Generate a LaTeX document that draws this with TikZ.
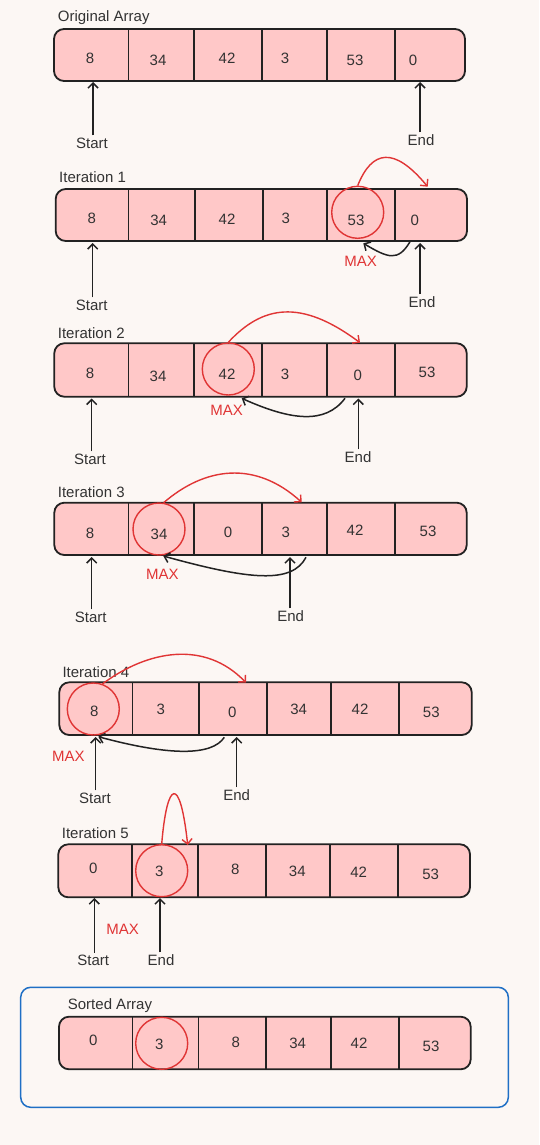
\documentclass[tikz,border=0pt]{standalone}
\usepackage{fontspec}
\setmainfont{Liberation Sans}
\usetikzlibrary{arrows.meta}
\definecolor{bgc}{HTML}{FCF7F4}
\definecolor{cellc}{HTML}{FFC8C8}
\definecolor{redc}{HTML}{E03535}
\definecolor{bluec}{HTML}{1F6FC5}
\definecolor{txtc}{HTML}{333333}
\definecolor{linec}{HTML}{222222}
\begin{document}
\begin{tikzpicture}[x=1pt,y=-1pt,
  font=\fontsize{15}{17}\selectfont,
  arrbox/.style={draw=linec, line width=1.8pt, fill=cellc, rounded corners=10pt},
  divider/.style={draw=linec, line width=1.6pt},
  val/.style={text=txtc, inner sep=0pt},
  ttl/.style={text=txtc, anchor=west, inner sep=0pt},
  lbl/.style={text=txtc, inner sep=2pt},
  maxc/.style={circle, draw=redc, line width=1.4pt, minimum size=52pt, inner sep=0pt},
  maxlbl/.style={text=redc, inner sep=0pt},
  ptr/.style={draw=linec, line width=1.5pt, -{Straight Barb[length=5pt,width=10pt]}},
  swapr/.style={draw=redc, line width=1.4pt, -{Straight Barb[length=5pt,width=10pt]}},
  backr/.style={draw=linec, line width=1.5pt, -{Straight Barb[length=5pt,width=10pt]}},
  frame/.style={draw=bluec, line width=1.5pt, rounded corners=10pt}
]
\fill[bgc] (0,0) rectangle (539,1145);
\useasboundingbox (0,0) rectangle (539,1145);

% ---------- Original array ----------
\node[ttl] (t0) at (57.7,17.3) {Original Array};
\draw[arrbox] (54,29) rectangle (465,81);
\foreach \x in {128.3,193.7,261.7,326.7,394.7} \draw[divider] (\x,29) -- (\x,81);
\foreach \x/\y/\t [count=\i] in {90/58/8,158/60/34,227/58/42,285/58/3,355/60/53,413/60/0}
  \node[val] (a0v\i) at (\x,\y) {\t};
\node[lbl] (s0) at (92,143) {Start};
\coordinate (s0t) at (93,82);
\draw[ptr] (s0t |- s0.north) -- (s0t);
\node[lbl] (e0) at (421,140) {End};
\coordinate (e0t) at (420,82);
\draw[ptr] (e0t |- e0.north) -- (e0t);

% ---------- Iteration 1 ----------
\node[ttl] (t1) at (59,176.7) {Iteration 1};
\draw[arrbox] (55.7,189) rectangle (467,241);
\foreach \x in {128.3,195,262.7,326.7,394.7} \draw[divider] (\x,189) -- (\x,241);
\foreach \x/\y/\t [count=\i] in {91.7/218.3/8,158.7/220/34,227/219/42,285.7/218/3,356/220/53,414.7/220/0}
  \node[val] (a1v\i) at (\x,\y) {\t};
\node[maxc] (m1) at (357.7,212.3) {};
\coordinate (r1e) at (427.7,186.7);
\draw[swapr] (m1.north) .. controls (372,150) and (394,146) .. (r1e);
\coordinate (b1s) at (410,241.7);
\coordinate (b1e) at (363.3,243.3);
\draw[backr] (b1s) .. controls (398,262) and (388,258) .. (b1e);
\node[maxlbl] (x1) at (360.7,261.7) {MAX};
\node[lbl] (s1) at (91.7,305) {Start};
\coordinate (s1t) at (92.7,243);
\draw[ptr] (s1t |- s1.north) -- (s1t);
\node[lbl] (e1) at (422,302) {End};
\coordinate (e1t) at (420,243);
\draw[ptr] (e1t |- e1.north) -- (e1t);

% ---------- Iteration 2 ----------
\node[ttl] (t2) at (57.7,333.3) {Iteration 2};
\draw[arrbox] (54.3,343.3) rectangle (466.7,396.7);
\foreach \x in {128.3,194,261.7,326.7,394.7} \draw[divider] (\x,343.3) -- (\x,396.7);
\foreach \x/\y/\t [count=\i] in {90/373/8,158/376/34,227/374/42,285/374/3,357.7/375/0,427/372/53}
  \node[val] (a2v\i) at (\x,\y) {\t};
\node[maxc] (m2) at (228.3,369) {};
\coordinate (r2e) at (360,342.7);
\draw[swapr] (m2.north) .. controls (262,306) and (300,298) .. (r2e);
\coordinate (b2s) at (345,398.3);
\coordinate (b2e) at (241.7,398.3);
\draw[backr] (b2s) .. controls (325,425) and (290,420) .. (b2e);
\node[maxlbl] (x2) at (226.7,410) {MAX};
\node[lbl] (s2) at (90,459) {Start};
\coordinate (s2t) at (91.7,398.5);
\draw[ptr] (s2t |- s2.north) -- (s2t);
\node[lbl] (e2) at (358,457) {End};
\coordinate (e2t) at (358.3,398.5);
\draw[ptr] (e2t |- e2.north) -- (e2t);

% ---------- Iteration 3 ----------
\node[ttl] (t3) at (57.7,492.3) {Iteration 3};
\draw[arrbox] (54.3,502.7) rectangle (466.7,555);
\foreach \x in {128.3,194,261.7,326.7,394.7} \draw[divider] (\x,502.7) -- (\x,555);
\foreach \x/\y/\t [count=\i] in {90/533/8,159/534/34,228/532/0,285.7/532/3,355/530/42,428/531/53}
  \node[val] (a3v\i) at (\x,\y) {\t};
\node[maxc] (m3) at (159,529) {};
\coordinate (r3e) at (301.7,502.3);
\draw[swapr] (m3.80) .. controls (205,467) and (255,460) .. (r3e);
\coordinate (b3s) at (306,557.3);
\coordinate (b3e) at (163.3,556);
\draw[backr] (b3s) .. controls (292,584) and (250,580) .. (b3e);
\node[maxlbl] (x3) at (162.3,574) {MAX};
\node[lbl] (s3) at (90.7,617) {Start};
\coordinate (s3t) at (91.7,557);
\draw[ptr] (s3t |- s3.north) -- (s3t);
\node[lbl] (e3) at (290.7,616) {End};
\coordinate (e3t) at (290,557);
\draw[ptr] (e3t |- e3.north) -- (e3t);

% ---------- Iteration 4 ----------
\node[ttl] (t4) at (62.3,672.3) {Iteration 4};
\draw[arrbox] (59.3,682.3) rectangle (471.7,735);
\foreach \x in {132.3,199,266.7,331,398.7} \draw[divider] (\x,682.3) -- (\x,735);
\foreach \x/\y/\t [count=\i] in {94.3/711.7/8,160.7/709/3,232.3/712/0,298.7/709/34,360/709/42,431.3/712/53}
  \node[val] (a4v\i) at (\x,\y) {\t};
\node[maxc] (m4) at (93.3,709) {};
\coordinate (r4e) at (246,682.7);
\draw[swapr] (m4.70) .. controls (148,650) and (205,640) .. (r4e);
\coordinate (b4s) at (224.3,737.3);
\coordinate (b4e) at (98.3,736.7);
\draw[backr] (b4s) .. controls (212,756) and (170,756) .. (b4e);
\node[maxlbl] (x4) at (68.3,756) {MAX};
\node[lbl] (s4) at (95,798) {Start};
\coordinate (s4t) at (95.7,737);
\draw[ptr] (s4t |- s4.north) -- (s4t);
\node[lbl] (e4) at (236.7,794.7) {End};
\coordinate (e4t) at (236.7,737);
\draw[ptr] (e4t |- e4.north) -- (e4t);

% ---------- Iteration 5 ----------
\node[ttl] (t5) at (61.7,833.3) {Iteration 5};
\draw[arrbox] (58.3,844.3) rectangle (470,897.3);
\foreach \x in {131.7,197.7,265.7,329.7,397.7} \draw[divider] (\x,844.3) -- (\x,897.3);
\foreach \x/\y/\t [count=\i] in {93.3/868.3/0,159.3/871.7/3,235.3/869.3/8,297.3/871.7/34,358.7/872.7/42,430.7/874/53}
  \node[val] (a5v\i) at (\x,\y) {\t};
\node[maxc] (m5) at (161.7,870.7) {};
\coordinate (r5e) at (187.7,845);
\draw[swapr] (m5.north) .. controls (167,780) and (180,774) .. (r5e);
\node[maxlbl] (x5) at (122.7,929) {MAX};
\node[lbl] (s5) at (93.3,960) {Start};
\coordinate (s5t) at (94.3,898);
\draw[ptr] (s5t |- s5.north) -- (s5t);
\node[lbl] (e5) at (161,960) {End};
\coordinate (e5t) at (160,898);
\draw[ptr] (e5t |- e5.north) -- (e5t);

% ---------- Sorted array ----------
\draw[frame] (20.7,987.3) rectangle (508.3,1107.3);
\node[ttl] (t6) at (67.7,1006) {Sorted Array};
\draw[arrbox] (59,1016.7) rectangle (470.7,1069.3);
\foreach \x in {132.3,198.3,265.7,330.7,398.7} \draw[divider] (\x,1016.7) -- (\x,1069.3);
\foreach \x/\y/\t [count=\i] in {93.3/1040/0,159.3/1044.3/3,235.7/1042.3/8,297.7/1043.3/34,359/1043.3/42,431/1046/53}
  \node[val] (a6v\i) at (\x,\y) {\t};
\node[maxc] (m6) at (161.7,1043.3) {};
\end{tikzpicture}
\end{document}
